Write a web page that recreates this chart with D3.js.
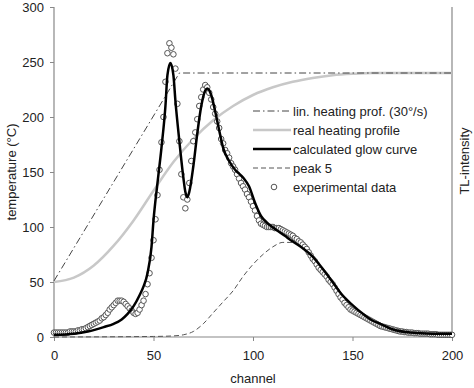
<!DOCTYPE html>
<html>
<head>
<meta charset="utf-8">
<script src="https://cdn.jsdelivr.net/npm/d3@7"></script>
<style>
  body { margin: 0; background: #fff; }
  svg { font-family: "Liberation Sans", Arial, sans-serif; }
</style>
</head>
<body>
<div id="chart"></div>
<script>
const width = 474, height = 388;
const margin = {top: 7, right: 22, bottom: 50, left: 54};

// linear heating profile (30 deg/s)
const linChannel = [0, 63, 200];
const linTemp = [51, 240, 240];

// real heating profile
const realChannel = [0, 10, 20, 30, 40, 50, 60, 70, 80, 90, 100, 110, 120, 130, 140, 150, 160, 180, 200];
const realTemp = [50, 54, 65, 83, 106, 133, 159, 180, 197, 210, 220, 227, 232, 235.5, 238, 239.3, 240, 240, 240];

// calculated glow curve
const calcChannel = [0, 10, 17, 25, 30, 34, 37, 40, 43, 45, 47, 49, 50, 52, 54, 56, 57, 58.5, 60, 61, 63, 65, 66, 67, 68, 70, 72, 74, 76, 77, 79, 81, 83, 85, 88, 91, 95, 98, 101, 104, 107, 112, 116, 119, 124, 130, 135, 140, 144, 150, 156, 160, 164, 170, 179, 190, 200];
const calcValue = [2, 3, 5, 9, 12, 16, 21, 28, 38, 46, 58, 82, 106, 140, 172, 210, 238, 249, 238, 215, 178, 145, 132, 127, 132, 155, 185, 210, 224, 226, 220, 205, 188, 172, 160, 152, 145, 137, 122, 110, 104, 97, 92, 88, 82, 73, 62, 50, 40, 29, 20, 15, 12, 7, 4, 3, 3];

// peak 5
const peakChannel = [0, 50, 60, 65, 70, 75, 80, 85, 90, 95, 100, 105, 110, 115, 120, 125, 130, 135, 140, 144, 150, 156, 160, 164, 170, 179, 190, 200];
const peakValue = [0, 0.5, 1, 2, 5, 12, 22, 32, 42, 55, 66, 75, 82, 86, 86, 81, 73, 62, 50, 40, 29, 20, 15, 11, 7, 4, 2, 1.5];

// experimental data, one point per channel 0..200
const expValue = [
  4, 4, 4, 4, 4, 4, 4, 4, 5, 5, 5, 5, 6, 6, 7, 7, 8, 9, 10, 11,
  12, 13, 14, 15, 17, 18, 20, 22, 25, 27, 29, 31, 33, 33, 33, 32, 30, 28, 26, 24,
  22, 21, 22, 25, 29, 33, 39, 48, 58, 72, 88, 107, 129, 152, 177, 200, 232, 258, 267, 263,
  257, 244, 212, 178, 148, 127, 117, 125, 140, 160, 178, 186, 198, 210, 218, 225, 229, 227, 222, 216,
  209, 203, 196, 190, 180, 176, 170, 167, 163, 158, 155, 152, 148, 144, 140, 137, 134, 130, 127, 123,
  119, 115, 110, 106, 103, 102, 101, 100, 100, 100, 100, 99, 99, 99, 98, 97, 96, 95, 94, 93,
  92, 90, 89, 87, 86, 84, 82, 80, 77, 74, 71, 69, 66, 63, 61, 59, 57, 55, 52, 50,
  48, 45, 42, 39, 36, 34, 31, 29, 27, 25, 24, 23, 22, 21, 20, 19, 18, 17, 16, 15,
  14, 13, 12, 11, 10, 9.5, 9, 8.5, 8, 7.5, 7, 6.5, 6, 5.5, 5, 5, 4.5, 4.5, 4, 4,
  4, 3.5, 3.5, 3.5, 3, 3, 3, 3, 3, 2.5, 2.5, 2.5, 2.5, 2, 2, 2, 2, 2, 2, 2,
  2
];

const xTicks = [0, 50, 100, 150, 200];
const yTicks = [0, 50, 100, 150, 200, 250, 300];

const legendLabels = ["lin. heating prof. (30°/s)", "real heating profile", "calculated glow curve", "peak 5", "experimental data"];

const svg = d3.select("#chart").append("svg")
    .attr("width", width)
    .attr("height", height);

const innerW = width - margin.left - margin.right;
const innerH = height - margin.top - margin.bottom - 1;

const x = d3.scaleLinear().domain([0, 200]).range([margin.left, margin.left + innerW]);
const y = d3.scaleLinear().domain([0, 300]).range([margin.top + innerH, margin.top]);

// axes
const xAxis = svg.append("g")
    .attr("transform", `translate(0,${margin.top + innerH})`)
    .call(d3.axisBottom(x).tickValues(xTicks).tickSize(4).tickPadding(10));

const yAxis = svg.append("g")
    .attr("transform", `translate(${margin.left},0)`)
    .call(d3.axisLeft(y).tickValues(yTicks).tickSize(4).tickPadding(6));

[xAxis, yAxis].forEach(g => {
    g.select(".domain").attr("stroke", "#888").attr("stroke-width", 1.2);
    g.selectAll(".tick line").attr("stroke", "#888");
    g.selectAll(".tick text").attr("fill", "#222").style("font-size", "13px");
});
xAxis.select(".domain").attr("d", `M${margin.left},0H${margin.left + innerW}`);
yAxis.select(".domain").attr("d", `M0,${margin.top}V${margin.top + innerH}`);

// right axis line
svg.append("line")
    .attr("x1", x(200)).attr("x2", x(200))
    .attr("y1", y(300)).attr("y2", y(0))
    .attr("stroke", "#888").attr("stroke-width", 1.2);

// axis labels
svg.append("text")
    .attr("x", x(100)).attr("y", 383)
    .attr("text-anchor", "middle")
    .style("font-size", "13px").attr("fill", "#222")
    .text("channel");

svg.append("text")
    .attr("transform", `translate(16,${y(150)}) rotate(-90)`)
    .attr("text-anchor", "middle")
    .style("font-size", "13px").attr("fill", "#222")
    .text("temperature (°C)");

svg.append("text")
    .attr("transform", `translate(469,${y(160)}) rotate(-90)`)
    .attr("text-anchor", "middle")
    .style("font-size", "13px").attr("fill", "#222")
    .text("TL-intensity");

const zip = (a, b) => a.map((v, i) => [v, b[i]]);

// real heating profile
svg.append("path")
    .attr("d", d3.line().x(d => x(d[0])).y(d => y(d[1])).curve(d3.curveMonotoneX)(zip(realChannel, realTemp)))
    .attr("fill", "none").attr("stroke", "#c8c8c8").attr("stroke-width", 2.5);

// linear heating profile
svg.append("path")
    .attr("d", d3.line().x(d => x(d[0])).y(d => y(d[1]))(zip(linChannel, linTemp)))
    .attr("fill", "none").attr("stroke", "#444").attr("stroke-width", 1)
    .attr("stroke-dasharray", "7,3,1.5,3");

// peak 5
svg.append("path")
    .attr("d", d3.line().x(d => x(d[0])).y(d => y(d[1])).curve(d3.curveMonotoneX)(zip(peakChannel, peakValue)))
    .attr("fill", "none").attr("stroke", "#555").attr("stroke-width", 1)
    .attr("stroke-dasharray", "5,3");

// experimental data
svg.append("g").selectAll("circle")
    .data(expValue)
    .join("circle")
    .attr("cx", (d, i) => x(i))
    .attr("cy", d => y(d))
    .attr("r", 2.8)
    .attr("fill", "#fff")
    .attr("stroke", "#555")
    .attr("stroke-width", 1);

// calculated glow curve
svg.append("path")
    .attr("d", d3.line().x(d => x(d[0])).y(d => y(d[1])).curve(d3.curveMonotoneX)(zip(calcChannel, calcValue)))
    .attr("fill", "none").attr("stroke", "#000").attr("stroke-width", 2.5);

// legend
const legend = svg.append("g");
const rowY = d => 111 + d * 19;
const lx0 = 253, lx1 = 291;
legendLabels.forEach((label, i) => {
    const ly = rowY(i);
    if (i === 0) {
        legend.append("line").attr("x1", lx0).attr("x2", lx1).attr("y1", ly).attr("y2", ly)
            .attr("stroke", "#444").attr("stroke-dasharray", "7,3,1.5,3");
    } else if (i === 1) {
        legend.append("line").attr("x1", lx0).attr("x2", lx1).attr("y1", ly).attr("y2", ly)
            .attr("stroke", "#c8c8c8").attr("stroke-width", 2.5);
    } else if (i === 2) {
        legend.append("line").attr("x1", lx0).attr("x2", lx1).attr("y1", ly).attr("y2", ly)
            .attr("stroke", "#000").attr("stroke-width", 2.5);
    } else if (i === 3) {
        legend.append("line").attr("x1", lx0).attr("x2", lx1).attr("y1", ly).attr("y2", ly)
            .attr("stroke", "#555").attr("stroke-dasharray", "5,3");
    } else {
        legend.append("circle").attr("cx", (lx0 + lx1) / 2 + 2).attr("cy", ly)
            .attr("r", 2.8).attr("fill", "#fff").attr("stroke", "#555");
    }
    legend.append("text")
        .attr("x", lx1 + 2).attr("y", ly)
        .attr("dy", "0.35em")
        .style("font-size", "13px").attr("fill", "#222")
        .text(label);
});
</script>
</body>
</html>
